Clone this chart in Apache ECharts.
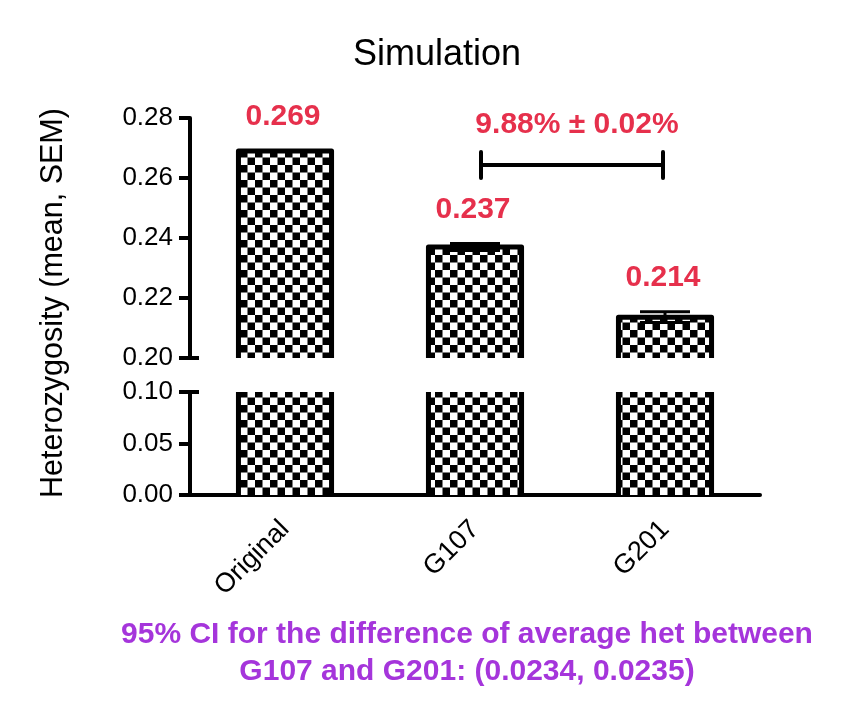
<!DOCTYPE html>
<html>
<head>
<meta charset="utf-8">
<script src="https://cdn.jsdelivr.net/npm/echarts@6/dist/echarts.min.js"></script>
<style>
  html, body { margin: 0; padding: 0; background: #fff; }
  #main { width: 853px; height: 725px; }
</style>
</head>
<body>
<div id="main"></div>
<script>
// data
const categories = ['Original', 'G107', 'G201'];
const means = [0.269, 0.237, 0.2136];
const sems = [0, 0.0012, 0.0018];
const upperRange = [0.20, 0.28, 0.02];
const lowerRange = [0.00, 0.10, 0.05];
const bracketFrom = 1, bracketTo = 2, bracketLevel = 0.2643;
const bracketText = '9.88% ± 0.02%';
const titleText = 'Simulation';
const yName = 'Heterozygosity (mean, SEM)';
const noteText = '95% CI for the difference of average het between\nG107 and G201: (0.0234, 0.0235)';

const FONT = '"Liberation Sans", Arial, sans-serif';
const RED = '#e6304c';
const PURPLE = '#a535db';

// checkerboard fill (drawn at 2x, scaled down to 7.5px squares)
const SQ = 15;
const tile = document.createElement('canvas');
tile.width = SQ * 2; tile.height = SQ * 2;
const tc = tile.getContext('2d');
tc.fillStyle = '#fff'; tc.fillRect(0, 0, SQ * 2, SQ * 2);
tc.fillStyle = '#000'; tc.fillRect(0, 0, SQ, SQ); tc.fillRect(SQ, SQ, SQ, SQ);
const checker = { image: tile, repeat: 'repeat', scaleX: 0.5, scaleY: 0.5 };

const barData = categories.map((c, i) => [i, means[i], sems[i]]);

const chart = echarts.init(document.getElementById('main'));

function barItem(showLabel) {
  return function (params, api) {
    const i = api.value(0), v = api.value(1), s = api.value(2);
    const cs = params.coordSys;
    const bw = api.size([1, 0])[0] * 0.49;
    const cx = api.coord([i, v])[0];
    const rawTop = api.coord([i, v])[1];
    const clippedTop = rawTop < cs.y;
    const yTop = Math.max(rawTop, cs.y);
    const yBot = Math.min(api.coord([i, 0])[1], cs.y + cs.height);
    const x0 = cx - bw / 2, x1 = cx + bw / 2;
    const children = [
      { type: 'rect', shape: { x: x0, y: yTop, width: bw, height: yBot - yTop },
        style: { fill: checker } }
    ];
    if (clippedTop) {
      children.push({ type: 'line', shape: { x1: x0, y1: yTop, x2: x0, y2: yBot }, style: { stroke: '#000', lineWidth: 5 } });
      children.push({ type: 'line', shape: { x1: x1, y1: yTop, x2: x1, y2: yBot }, style: { stroke: '#000', lineWidth: 5 } });
    } else {
      children.push({ type: 'polyline', shape: { points: [[x0, yBot], [x0, yTop], [x1, yTop], [x1, yBot]] },
        style: { stroke: '#000', lineWidth: 5, lineJoin: 'round', fill: null } });
    }
    if (showLabel) {
      const ly = api.coord([i, v + s])[1] - 34;
      children.push({ type: 'text', style: { x: cx - 2, y: ly, text: v.toFixed(3), fill: RED,
        font: 'bold 30px ' + FONT, align: 'center', verticalAlign: 'middle' } });
    }
    return { type: 'group', children: children };
  };
}

function errorItem(params, api) {
  const i = api.value(0), v = api.value(1), s = api.value(2);
  if (!s) return null;
  const hi = api.coord([i, v + s]), lo = api.coord([i, v - s]);
  const half = 25;
  const st = { stroke: '#000', lineWidth: 3 };
  return { type: 'group', children: [
    { type: 'line', shape: { x1: hi[0], y1: hi[1], x2: lo[0], y2: lo[1] }, style: st },
    { type: 'line', shape: { x1: hi[0] - half, y1: hi[1], x2: hi[0] + half, y2: hi[1] }, style: st },
    { type: 'line', shape: { x1: lo[0] - half, y1: lo[1], x2: lo[0] + half, y2: lo[1] }, style: st }
  ] };
}

function bracketItem(params, api) {
  const a = api.coord([api.value(0), api.value(2)]);
  const b = api.coord([api.value(1), api.value(2)]);
  const st = { stroke: '#000', lineWidth: 4, lineCap: 'round' };
  return { type: 'group', children: [
    { type: 'line', shape: { x1: a[0] + 6, y1: a[1], x2: b[0] - 2, y2: b[1] }, style: st },
    { type: 'line', shape: { x1: a[0] + 6, y1: a[1] - 13, x2: a[0] + 6, y2: a[1] + 13 }, style: st },
    { type: 'line', shape: { x1: b[0] - 2, y1: b[1] - 13, x2: b[0] - 2, y2: b[1] + 13 }, style: st },
    { type: 'text', style: { x: (a[0] + b[0]) / 2 + 7, y: a[1] - 40, text: bracketText, fill: RED,
      font: 'bold 30px ' + FONT, align: 'center', verticalAlign: 'middle' } }
  ] };
}

const gl = 190, gw = 570;
const yAxisCommon = {
  type: 'value',
  axisLine: { show: true, lineStyle: { color: '#000', width: 4 } },
  axisTick: { show: true, length: 11, lineStyle: { color: '#000', width: 4 } },
  axisLabel: { color: '#000', fontSize: 26, fontFamily: 'Liberation Sans', margin: 17, formatter: v => v.toFixed(2) },
  splitLine: { show: false }
};

const option = {
  animation: false,
  backgroundColor: '#fff',
  textStyle: { fontFamily: 'Liberation Sans' },
  grid: [
    { left: gl, top: 118, width: gw, height: 240 },
    { left: gl, top: 392, width: gw, height: 103 }
  ],
  xAxis: [
    { type: 'category', gridIndex: 0, data: categories, show: false },
    { type: 'category', gridIndex: 1, data: categories,
      axisLine: { lineStyle: { color: '#000', width: 4 } },
      axisTick: { alignWithLabel: true, length: 14, lineStyle: { color: '#000', width: 4 } },
      axisLabel: { rotate: 45, color: '#000', fontSize: 27, fontFamily: 'Liberation Sans', margin: 30 } }
  ],
  yAxis: [
    Object.assign({ gridIndex: 0, min: upperRange[0], max: upperRange[1], interval: upperRange[2] }, yAxisCommon),
    Object.assign({ gridIndex: 1, min: lowerRange[0], max: lowerRange[1], interval: lowerRange[2] }, yAxisCommon)
  ],
  series: [
    { type: 'custom', xAxisIndex: 0, yAxisIndex: 0, data: barData, renderItem: barItem(true), z: 2 },
    { type: 'custom', xAxisIndex: 1, yAxisIndex: 1, data: barData, renderItem: barItem(false), z: 2 },
    { type: 'custom', xAxisIndex: 0, yAxisIndex: 0, data: barData, renderItem: errorItem, z: 3 },
    { type: 'custom', xAxisIndex: 0, yAxisIndex: 0, data: [[bracketFrom, bracketTo, bracketLevel]], renderItem: bracketItem, z: 3 }
  ],
  graphic: [
    { type: 'text', x: 437, y: 55, style: { text: titleText, fill: '#000', font: '36px ' + FONT, align: 'center', verticalAlign: 'middle' } },
    { type: 'text', x: 54, y: 303, rotation: Math.PI / 2, style: { text: yName, fill: '#000', font: '30.5px ' + FONT, align: 'center', verticalAlign: 'middle' } },
    { type: 'text', x: 467, y: 653, style: { text: noteText, fill: PURPLE, font: 'bold 30px ' + FONT, lineHeight: 37, align: 'center', verticalAlign: 'middle' } },
    // axis break stubs
    { type: 'line', shape: { x1: gl, y1: 358, x2: gl + 9, y2: 358 }, style: { stroke: '#000', lineWidth: 4 } },
    { type: 'line', shape: { x1: gl, y1: 392, x2: gl + 9, y2: 392 }, style: { stroke: '#000', lineWidth: 4 } }
  ]
};

chart.setOption(option);
</script>
</body>
</html>
